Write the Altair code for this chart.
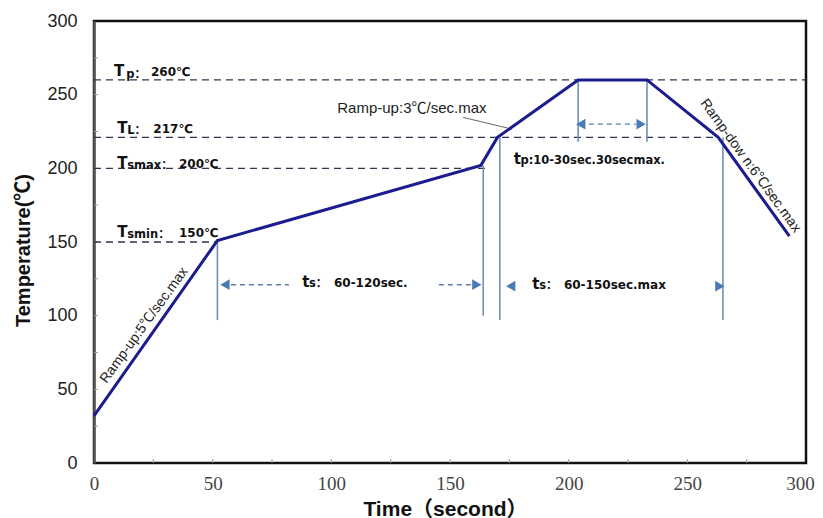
import altair as alt
import pandas as pd

# ---- profile (reflow curve) ----
time_s = [0, 52, 163, 170, 204, 233, 263, 293]
temp_c = [32, 151, 202, 221, 260, 260, 221, 154]

# ---- dashed temperature levels ----
level_temp = [260, 221, 200, 150]
level_end = [300, 263, 166, 52]

# ---- vertical marker lines ----
marker_time = [52, 164, 171, 265, 204, 233]
marker_top = [151, 202, 221, 221, 260, 260]
marker_bottom = [97, 100, 97, 97, 218, 218]

# ---- arrow heads ----
head_time = [55.2, 161.3, 175.6, 263.7, 205.1, 230.5]
head_temp = [121, 121, 120, 120, 230, 230]
head_dir = ["triangle-left", "triangle-right", "triangle-left", "triangle-right", "triangle-left", "triangle-right"]

# ---- dashed arrow shafts ----
shaft_start = [57.7, 145.3, 208.5]
shaft_end = [82.1, 159.6, 228.3]
shaft_temp = [121, 121, 230]

# ---- label texts ----
big_text = ["T", "T", "T", "T", "t", "t", "t"]
big_x = [8.4, 9.8, 9.8, 9.8, 87.7, 184.7, 176.9]
big_y = [262.6, 223.9, 200.5, 153.4, 119.6, 118.4, 202.7]

sub_text = ["p：", "L：", "smax：", "smin：", "s：", "s：", "p:10-30sec.30secmax."]
sub_x = [13.6, 14.0, 14.0, 14.0, 90.6, 187.6, 179.7]
sub_y = [261.2, 223.2, 199.6, 152.9, 119.2, 118.0, 202.7]

val_text = ["260℃", "217℃", "200℃", "150℃", "60-120sec.", "60-150sec.max"]
val_x = [24.0, 25.0, 35.8, 35.8, 101.1, 198.0]
val_y = [262.6, 223.9, 200.5, 153.4, 119.6, 118.4]

ramp_text = ["Ramp-up:5℃/sec.max", "Ramp-dow n:6℃/sec.max"]
ramp_x = [21.1, 276.6]
ramp_y = [93.4, 201.7]
ramp_angle = [306, 54]

note_text = ["Ramp-up:3℃/sec.max"]
note_x = [102.5]
note_y = [237.3]
leader_x = [155.5]
leader_x2 = [176.1]
leader_y = [234.6]
leader_y2 = [226.6]

x_ticks = [25, 50, 75, 100, 125, 150, 175, 200, 225, 250, 275]
y_ticks = [25, 50, 75, 100, 125, 150, 175, 200, 225, 250, 275]
x_labels = [0, 50, 100, 150, 200, 250, 300]
y_labels = [0, 50, 100, 150, 200, 250, 300]

BOLD = "DejaVu Sans, Noto Sans CJK SC"
SANS = "Liberation Sans, Noto Sans CJK SC"

SX = alt.Scale(domain=[0, 300], nice=False, zero=False)
SY = alt.Scale(domain=[0, 300], nice=False, zero=False)

AX = alt.Axis(values=x_labels, grid=False, ticks=False, domain=False,
              labelFont="Liberation Serif", labelFontSize=19, labelColor="#444",
              labelBaseline="middle", labelPadding=20, labelFlush=False,
              labelOverlap=False,
              labelOffset=alt.condition("datum.value == 300", alt.value(-6), alt.value(0)),
              title="Time（second）", titleFont=SANS, titleFontSize=21,
              titleFontWeight="bold", titleColor="#111",
              titleX=351, titleY=46, titleBaseline="middle", titleAlign="center")
AY = alt.Axis(values=y_labels, grid=False, ticks=False, domain=True,
              domainColor="#555", domainWidth=2.5,
              labelFont="Liberation Sans", labelFontSize=18, labelColor="#222",
              labelPadding=17, labelFlush=False, labelOverlap=False,
              title="Temperature(℃)", titleFont=SANS, titleFontSize=20,
              titleFontWeight="bold", titleColor="#111",
              titleAngle=270, titleX=-71, titleY=229,
              titleBaseline="middle", titleAlign="center")


def X(f):
    return alt.X(f, type="quantitative", scale=SX, axis=AX)


def Y(f):
    return alt.Y(f, type="quantitative", scale=SY, axis=AY)


profile = alt.Chart(pd.DataFrame({"t": time_s, "T": temp_c})).mark_line(
    color="#1c1c8f", strokeWidth=3).encode(x=X("t"), y=Y("T"))

xt = alt.Chart(pd.DataFrame({"v": x_ticks})).mark_rule(color="#999", strokeWidth=1).encode(
    x=X("v"), y=alt.value(442), y2=alt.value(438))
yt = alt.Chart(pd.DataFrame({"v": y_ticks})).mark_rule(color="#999", strokeWidth=1).encode(
    y=Y("v"), x=alt.value(0), x2=alt.value(4))

levels = alt.Chart(pd.DataFrame({"y": level_temp, "e": level_end, "s": [0] * len(level_temp)})).mark_rule(
    color="#33334d", strokeWidth=1.3, strokeDash=[7, 5]).encode(x=X("s"), x2="e", y=Y("y"))

markers = alt.Chart(pd.DataFrame({"x": marker_time, "a": marker_bottom, "b": marker_top})).mark_rule(
    color="#7090b8", strokeWidth=1.6).encode(x=X("x"), y=Y("a"), y2="b")

shafts = alt.Chart(pd.DataFrame({"a": shaft_start, "b": shaft_end, "y": shaft_temp})).mark_rule(
    color="#5a80b0", strokeWidth=1.3, strokeDash=[5, 4]).encode(x=X("a"), x2="b", y=Y("y"))

heads = alt.Chart(pd.DataFrame({"x": head_time, "y": head_temp, "s": head_dir})).mark_point(
    filled=True, color="#4a7cb3", size=115, opacity=1).encode(
    x=X("x"), y=Y("y"), shape=alt.Shape("s", type="nominal", scale=None))

leader = alt.Chart(pd.DataFrame({"a": leader_x, "b": leader_x2, "c": leader_y, "d": leader_y2})).mark_rule(
    color="#666", strokeWidth=1).encode(x=X("a"), x2="b", y=Y("c"), y2="d")

big = alt.Chart(pd.DataFrame({"x": big_x, "y": big_y, "s": big_text})).mark_text(
    font=BOLD, fontWeight="bold", fontSize=15, align="left", baseline="alphabetic", color="#111").encode(
    x=X("x"), y=Y("y"), text="s")
sub = alt.Chart(pd.DataFrame({"x": sub_x, "y": sub_y, "s": sub_text})).mark_text(
    font=BOLD, fontWeight="bold", fontSize=11.5, align="left", baseline="alphabetic", color="#111").encode(
    x=X("x"), y=Y("y"), text="s")
vals = alt.Chart(pd.DataFrame({"x": val_x, "y": val_y, "s": val_text})).mark_text(
    font=BOLD, fontWeight="bold", fontSize=12, align="left", baseline="alphabetic", color="#111").encode(
    x=X("x"), y=Y("y"), text="s")
ramps = alt.Chart(pd.DataFrame({"x": ramp_x, "y": ramp_y, "s": ramp_text, "a": ramp_angle})).mark_text(
    font=SANS, fontSize=14, align="center", baseline="middle", color="#222").encode(
    x=X("x"), y=Y("y"), text="s", angle=alt.Angle("a", type="quantitative", scale=None))
note = alt.Chart(pd.DataFrame({"x": note_x, "y": note_y, "s": note_text})).mark_text(
    font=SANS, fontSize=15, align="left", baseline="alphabetic", color="#222").encode(
    x=X("x"), y=Y("y"), text="s")

chart = alt.layer(
    xt, yt, levels, markers, shafts, heads, leader, profile, big, sub, vals, ramps, note
).properties(
    width=712, height=442,
    autosize=alt.AutoSizeParams(type="none"),
    padding={"left": 86, "top": 13, "right": 9, "bottom": 60},
    background="white",
).configure_view(stroke="#111", strokeWidth=2.5)

chart.save("out.html", embed_options={"renderer": "svg", "actions": False})
